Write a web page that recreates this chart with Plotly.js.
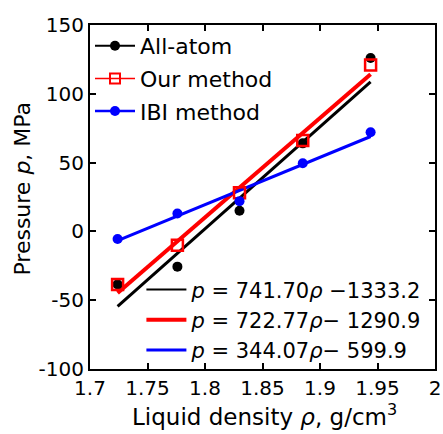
<!DOCTYPE html>
<html>
<head>
<meta charset="utf-8">
<script src="https://cdn.plot.ly/plotly-3.0.1.min.js"></script>
<style>html,body{margin:0;padding:0;background:#fff;}#chart{width:443px;height:434px;}</style>
</head>
<body>
<div id="chart"></div>
<script>
// Data
const density = [1.724, 1.776, 1.830, 1.885, 1.944];
const allAtom = [-38.5, -25.6, 15, 64, 126];
const ourMethod = [-38.5, -10, 28, 66, 121];
const ibiMethod = [-5.5, 13, 22, 49.5, 72];
const seriesNames = ['All-atom', 'Our method', 'IBI method'];
// Linear fits shown in the chart: p = slope*rho + intercept
const fitSlopes = [741.70, 722.77, 344.07];
const fitIntercepts = [-1333.2, -1290.9, -599.9];
const fitRange = [1.724, 1.944];
const fitLabels = [
  '<i>p</i> = 741.70<i>ρ</i> −1333.2',
  '<i>p</i> = 722.77<i>ρ</i>− 1290.9',
  '<i>p</i> = 344.07<i>ρ</i>− 599.9'
];
const xTicks = [1.7, 1.75, 1.8, 1.85, 1.9, 1.95, 2];
const yTicks = [-100, -50, 0, 50, 100, 150];
const xTitle = 'Liquid density <i>ρ</i>, g/cm<sup>3</sup>';
const yTitle = 'Pressure <i>p</i>, MPa';

const colors = ['#000000', '#ff0000', '#0000ff'];
const seriesData = [allAtom, ourMethod, ibiMethod];
const markerSymbols = ['circle', 'square-open', 'circle'];
const fitWidths = [3, 4, 3];
const legendFitWidths = [2, 4, 3];
const legendDataWidths = [2, 1.5, 2.5];

const traces = [];
// fit lines (drawn in plot, no legend)
for (let i = 0; i < 3; i++) {
  traces.push({
    x: fitRange,
    y: fitRange.map(r => fitSlopes[i] * r + fitIntercepts[i]),
    mode: 'lines', line: {color: colors[i], width: fitWidths[i]},
    showlegend: false, hoverinfo: 'skip'
  });
}
// data markers
for (let i = 0; i < 3; i++) {
  traces.push({
    x: density, y: seriesData[i], mode: 'markers',
    marker: {symbol: markerSymbols[i], size: i === 1 ? 11 : 10, color: colors[i],
             line: {color: colors[i], width: i === 1 ? 2.5 : 0}},
    showlegend: false
  });
}
// legend 1 entries (data series)
for (let i = 0; i < 3; i++) {
  traces.push({
    x: [null], y: [null], mode: 'lines+markers', name: seriesNames[i],
    line: {color: colors[i], width: legendDataWidths[i]},
    marker: {symbol: markerSymbols[i], size: 10, color: colors[i], line: {color: colors[i], width: i === 1 ? 2 : 0}},
    legend: 'legend', legendgroup: 'd' + i
  });
}
// legend 2 entries (fits)
for (let i = 0; i < 3; i++) {
  traces.push({
    x: [null], y: [null], mode: 'lines', name: fitLabels[i],
    line: {color: colors[i], width: legendFitWidths[i]},
    legend: 'legend2', legendgroup: 'f' + i
  });
}

const font = {family: 'DejaVu Sans', color: '#000', size: 20};
const layout = {
  width: 443, height: 434,
  margin: {l: 90, r: 8, t: 25, b: 65},
  paper_bgcolor: '#fff', plot_bgcolor: '#fff',
  font: font,
  xaxis: {
    range: [1.7, 2], tickvals: xTicks, ticktext: xTicks.map(String),
    ticks: 'inside', ticklen: 6, tickwidth: 2, tickcolor: '#000',
    showline: true, linewidth: 2, linecolor: '#000', mirror: 'allticks',
    showgrid: false, zeroline: false,
    tickfont: {family: 'DejaVu Sans', size: 20, color: '#000'}
  },
  yaxis: {
    range: [-100, 150], tickvals: yTicks, ticktext: yTicks.map(v => v < 0 ? '-' + Math.abs(v) : String(v)),
    ticks: 'inside', ticklen: 6, tickwidth: 2, tickcolor: '#000',
    showline: true, linewidth: 2, linecolor: '#000', mirror: 'allticks',
    showgrid: false, zeroline: false,
    tickfont: {family: 'DejaVu Sans', size: 20, color: '#000'}
  },
  annotations: [
    {text: xTitle, xref: 'paper', yref: 'paper', x: 0.507, y: -0.083,
     xanchor: 'center', yanchor: 'top', showarrow: false,
     font: {family: 'DejaVu Sans', size: 23, color: '#000'}},
    {text: yTitle, xref: 'paper', yref: 'paper', x: -0.197, y: 0.5247, textangle: -90,
     xanchor: 'center', yanchor: 'middle', showarrow: false,
     font: {family: 'DejaVu Sans', size: 22, color: '#000'}}
  ],
  legend: {
    x: 0.0, y: 1.0, xanchor: 'left', yanchor: 'top',
    bgcolor: 'rgba(0,0,0,0)', borderwidth: 0,
    font: {family: 'DejaVu Sans', size: 22, color: '#000'},
    itemwidth: 40, tracegroupgap: 1, traceorder: 'grouped'
  },
  legend2: {
    x: 0.149, y: 0.29, xanchor: 'left', yanchor: 'top',
    bgcolor: 'rgba(0,0,0,0)', borderwidth: 0,
    font: {family: 'DejaVu Sans', size: 21, color: '#000'},
    itemwidth: 40, tracegroupgap: 0, traceorder: 'grouped'
  },
  showlegend: true
};

Plotly.newPlot('chart', traces, layout, {displayModeBar: false, staticPlot: true});
</script>
</body>
</html>
